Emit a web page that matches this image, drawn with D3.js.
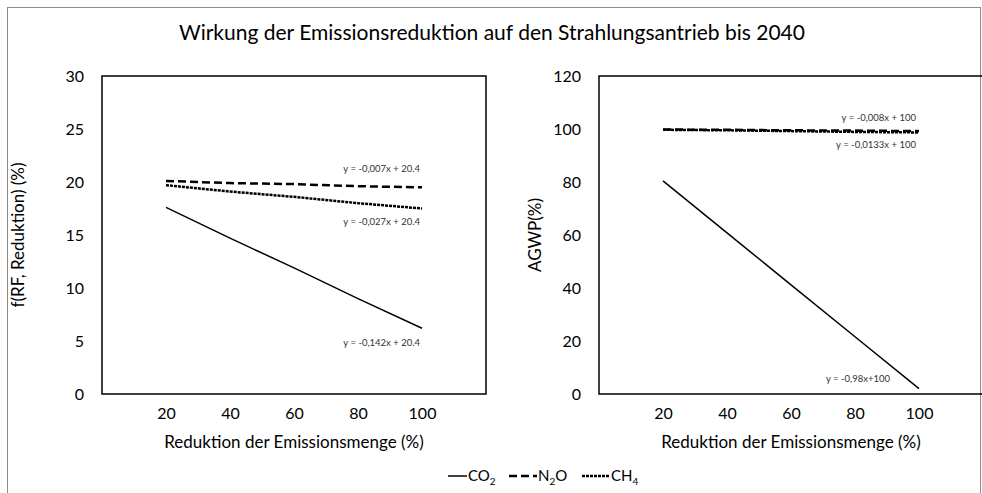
<!DOCTYPE html>
<html>
<head>
<meta charset="utf-8">
<script src="https://cdn.jsdelivr.net/npm/d3@7"></script>
<style>
  body { margin: 0; background: #fff; }
  text { font-family: Lato, "Open Sans", sans-serif; fill: #000; }
</style>
</head>
<body>
<div id="my_dataviz"></div>
<script>
// data
var xVals = [20, 40, 60, 80, 100];
var xTicks = [20, 40, 60, 80, 100];

var rfCO2 = [17.6, 14.7, 11.9, 9.0, 6.2];
var rfN2O = [20.1, 19.9, 19.8, 19.6, 19.5];
var rfCH4 = [19.7, 19.1, 18.6, 18.0, 17.5];
var rfTicks = [0, 5, 10, 15, 20, 25, 30];

var agwpCO2 = [80.4, 60.8, 41.2, 21.6, 2.0];
var agwpN2O = [99.8, 99.7, 99.5, 99.4, 99.2];
var agwpCH4 = [99.7, 99.5, 99.2, 98.9, 98.7];
var agwpTicks = [0, 20, 40, 60, 80, 100, 120];

var rfLabels = ["y = -0,142x + 20.4", "y = -0,007x + 20.4", "y = -0,027x + 20.4"];
var agwpLabels = ["y = -0,98x+100", "y = -0,008x + 100", "y = -0,0133x + 100"];

var W = 982, H = 493;

var svg = d3.select("#my_dataviz")
    .append("svg")
    .attr("width", W)
    .attr("height", H);

// outer chart frame
svg.append("rect")
    .attr("x", 7.5).attr("y", 7.5)
    .attr("width", 973).attr("height", 520)
    .attr("fill", "none")
    .attr("stroke", "#8c8c8c")
    .attr("stroke-width", 1);

svg.append("text")
    .attr("x", 492)
    .attr("y", 40)
    .attr("text-anchor", "middle")
    .style("font-size", "21px")
    .text("Wirkung der Emissionsreduktion auf den Strahlungsantrieb bis 2040");

var styles = [
    {dash: null, width: 1.5},
    {dash: "8,4", width: 2.5},
    {dash: "3,1", width: 2.5}
];

function drawPanel(opt) {
    var g = svg.append("g")
        .attr("transform", "translate(" + opt.left + "," + opt.top + ")");

    var x = d3.scaleLinear().domain([0, 120]).range([0, opt.width]);
    var y = d3.scaleLinear().domain(opt.yDomain).range([opt.height, 0]);

    // frame
    g.append("rect")
        .attr("width", opt.width)
        .attr("height", opt.height)
        .attr("fill", "none")
        .attr("stroke", "#000")
        .attr("stroke-width", 1.5);

    var ya = g.append("g")
        .call(d3.axisLeft(y).tickValues(opt.yTicks).tickSize(0).tickPadding(18));
    ya.select(".domain").remove();
    ya.selectAll("text").style("font-size", "16px").style("font-family", "Lato, sans-serif");

    var xa = g.append("g")
        .attr("transform", "translate(0," + opt.height + ")")
        .call(d3.axisBottom(x).tickValues(xTicks).tickSize(0).tickPadding(14));
    xa.select(".domain").remove();
    xa.selectAll("text").style("font-size", "16px").style("font-family", "Lato, sans-serif");

    // axis titles
    g.append("text")
        .attr("x", 192)
        .attr("y", opt.height + 54)
        .attr("text-anchor", "middle")
        .style("font-size", "17px")
        .text("Reduktion der Emissionsmenge (%)");

    g.append("text")
        .attr("transform", "rotate(-90)")
        .attr("x", -(opt.height / 2))
        .attr("y", opt.yLabelX)
        .attr("text-anchor", "middle")
        .style("font-size", "17px")
        .text(opt.yLabel);

    var line = d3.line()
        .x(function(d) { return x(d.x); })
        .y(function(d) { return y(d.y); });

    opt.series.forEach(function(s, i) {
        var pts = xVals.map(function(v, j) { return {x: v, y: s[j]}; });
        g.append("path")
            .datum(pts)
            .attr("fill", "none")
            .attr("stroke", "#000")
            .attr("stroke-width", styles[i].width)
            .attr("stroke-dasharray", styles[i].dash)
            .attr("d", line);
    });

    // trend line equations
    opt.labels.forEach(function(t, i) {
        g.append("text")
            .attr("x", opt.labelPos[i][0])
            .attr("y", opt.labelPos[i][1])
            .attr("text-anchor", "end")
            .style("font-size", "9.5px")
            .style("fill", "#333")
            .text(t);
    });
}

drawPanel({
    left: 102, top: 76, width: 384, height: 318,
    yDomain: [0, 30], yTicks: rfTicks,
    yLabel: "f(RF, Reduktion) (%)", yLabelX: -78,
    series: [rfCO2, rfN2O, rfCH4],
    labels: rfLabels,
    labelPos: [[318, 270], [318, 96], [318, 149]]
});

drawPanel({
    left: 599, top: 76, width: 384, height: 318,
    yDomain: [0, 120], yTicks: agwpTicks,
    yLabel: "AGWP(%)", yLabelX: -58,
    series: [agwpCO2, agwpN2O, agwpCH4],
    labels: agwpLabels,
    labelPos: [[291, 306], [317, 45], [317, 72]]
});

// legend
var legend = svg.append("g").attr("transform", "translate(0,476)");
var legendItems = [
    {x0: 448, x1: 467, name: "CO", sub: "2", tail: ""},
    {x0: 509, x1: 537, name: "N", sub: "2", tail: "O"},
    {x0: 582, x1: 610, name: "CH", sub: "4", tail: ""}
];
legendItems.forEach(function(d, i) {
    legend.append("line")
        .attr("x1", d.x0).attr("x2", d.x1)
        .attr("y1", 0).attr("y2", 0)
        .attr("stroke", "#000")
        .attr("stroke-width", styles[i].width)
        .attr("stroke-dasharray", styles[i].dash);
    var t = legend.append("text")
        .attr("x", d.x1 + 1)
        .attr("y", 5)
        .style("font-size", "15px");
    t.append("tspan").text(d.name);
    t.append("tspan").attr("dy", 4).style("font-size", "10px").text(d.sub);
    if (d.tail) t.append("tspan").attr("dy", -4).text(d.tail);
});
</script>
</body>
</html>
